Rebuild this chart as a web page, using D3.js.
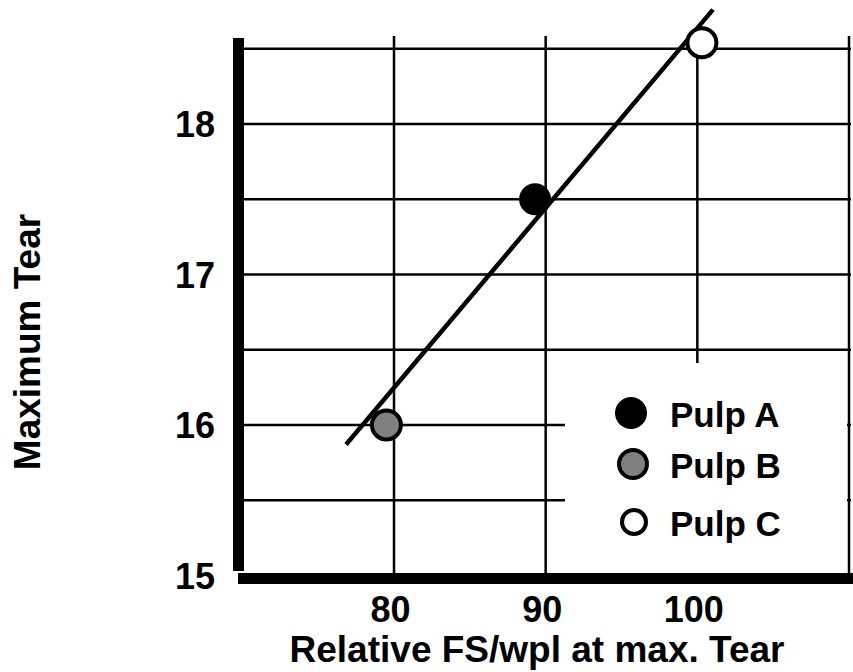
<!DOCTYPE html>
<html>
<head>
<meta charset="utf-8">
<script src="https://cdn.jsdelivr.net/npm/d3@7"></script>
<style>
  html, body { margin: 0; padding: 0; background: #fff; }
  svg { display: block; }
  text { font-family: "Liberation Sans", Arial, Helvetica, sans-serif; font-weight: bold; fill: #000; }
</style>
</head>
<body>
<svg id="chart" width="853" height="672"></svg>
<script>
// ---- data ----
const pulpNames = ["Pulp A", "Pulp B", "Pulp C"];
const pulpFS = [89.3, 79.5, 100.3];      // Relative FS/wpl at max. Tear
const pulpTear = [17.5, 16.0, 18.54];    // Maximum Tear
const pulpFill = ["#000000", "#808080", "#ffffff"];
const fitFS = [76.84, 101.03];
const fitTear = [15.87, 18.76];
const xTickValues = [80, 90, 100];
const yTickValues = [15, 16, 17, 18];
const xGridValues = [80, 90, 100, 110];
const yGridValues = [15.5, 16, 16.5, 17, 17.5, 18, 18.5];
const xTitle = "Relative FS/wpl at max. Tear";
const yTitle = "Maximum Tear";

// ---- scales ----
const x = d3.scaleLinear().domain([80, 110]).range([394, 849]);
const y = d3.scaleLinear().domain([16, 18]).range([425, 124]);

const svg = d3.select("#chart");

// grid
const grid = svg.append("g").attr("stroke", "#000").attr("stroke-width", 2.5);
grid.selectAll("line.h").data(yGridValues).enter().append("line")
  .attr("class", "h")
  .attr("x1", 242).attr("x2", 851)
  .attr("y1", d => y(d)).attr("y2", d => y(d));
grid.selectAll("line.v").data(xGridValues).enter().append("line")
  .attr("class", "v")
  .attr("x1", d => x(d)).attr("x2", d => x(d))
  .attr("y1", 36).attr("y2", 573);

// legend background (covers grid)
svg.append("rect").attr("x", 565).attr("y", 363).attr("width", 282).attr("height", 210).attr("fill", "#fff");

// axes bars
svg.append("rect").attr("x", 233).attr("y", 38).attr("width", 11).attr("height", 533).attr("fill", "#000");
svg.append("rect").attr("x", 238).attr("y", 573).attr("width", 615).attr("height", 11).attr("fill", "#000");

// tick labels via d3 axes
const xAxis = d3.axisBottom(x).tickValues(xTickValues).tickSize(0).tickFormat(d3.format("d"));
const gx = svg.append("g").attr("transform", "translate(-4,594)").call(xAxis);
gx.select(".domain").remove();
gx.selectAll("text").attr("y", 0).attr("dy", "0.78em").style("font-size", "36px")
  .style("font-family", "'Liberation Sans', Arial, sans-serif").style("font-weight", "bold");

const yAxis = d3.axisLeft(y).tickValues(yTickValues).tickSize(0).tickFormat(d3.format("d"));
const gy = svg.append("g").attr("transform", "translate(215,0)").call(yAxis);
gy.select(".domain").remove();
gy.selectAll("text").attr("x", 0).attr("dy", "0.36em").style("font-size", "36px")
  .style("font-family", "'Liberation Sans', Arial, sans-serif").style("font-weight", "bold");

// titles
svg.append("text").attr("x", 537).attr("y", 662).attr("text-anchor", "middle")
  .style("font-size", "37px").text(xTitle);
svg.append("text").attr("transform", "translate(40,342) rotate(-90)").attr("text-anchor", "middle")
  .style("font-size", "37px").text(yTitle);

// fit line
svg.append("line")
  .attr("x1", x(fitFS[0])).attr("y1", y(fitTear[0]))
  .attr("x2", x(fitFS[1])).attr("y2", y(fitTear[1]))
  .attr("stroke", "#000").attr("stroke-width", 4.5);

// points
const pts = pulpNames.map((n, i) => ({ name: n, fs: pulpFS[i], tear: pulpTear[i], fill: pulpFill[i] }));
svg.selectAll("circle.pt").data(pts).enter().append("circle")
  .attr("class", "pt")
  .attr("cx", d => x(d.fs)).attr("cy", d => y(d.tear))
  .attr("r", (d, i) => i === 0 ? 16 : 14.5)
  .attr("fill", d => d.fill)
  .attr("stroke", "#000").attr("stroke-width", (d, i) => i === 0 ? 0 : 4);

// legend
const legY = [413, 464, 522];
const legX = [631, 633, 634];
const legR = [16, 14, 12];
const lg = svg.append("g");
lg.selectAll("circle").data(pts).enter().append("circle")
  .attr("cx", (d, i) => legX[i]).attr("cy", (d, i) => legY[i])
  .attr("r", (d, i) => legR[i])
  .attr("fill", d => d.fill)
  .attr("stroke", "#000").attr("stroke-width", (d, i) => i === 0 ? 0 : 4);
lg.selectAll("text").data(pts).enter().append("text")
  .attr("x", 670).attr("y", (d, i) => legY[i] + 14)
  .style("font-size", "35px").text(d => d.name);
</script>
</body>
</html>
